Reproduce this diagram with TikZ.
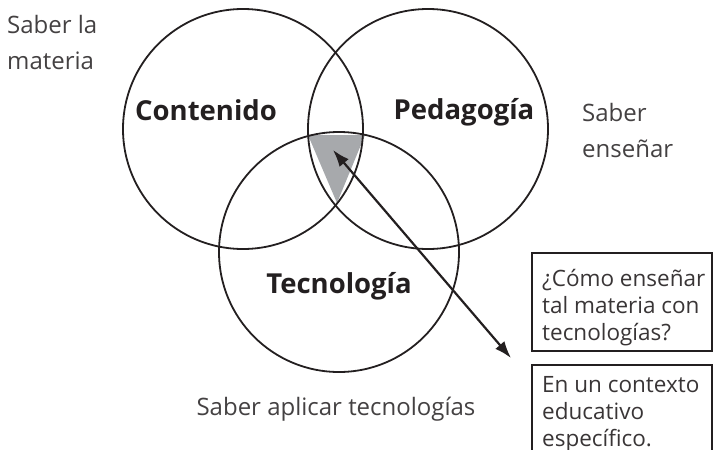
\documentclass[tikz,border=0pt]{standalone}
\usepackage{fontspec}
\setmainfont{Open Sans}
\usetikzlibrary{arrows.meta}
\definecolor{ink}{HTML}{231F20}
\definecolor{lensgray}{HTML}{A7A9AC}
\begin{document}
\begin{tikzpicture}[x=1pt,y=-1pt,
        venn/.style={draw=ink,line width=1.8pt,circle,minimum size=240pt,inner sep=0pt},
        area/.style={font=\fontsize{27.5}{30}\selectfont\bfseries,text=ink,inner sep=0pt,anchor=base},
        hint/.style={font=\fontsize{24}{36}\selectfont,text=ink!85,align=left,inner sep=0pt,anchor=base west},
        infobox/.style={draw=ink,line width=2.4pt,outer sep=0pt,anchor=north west,minimum width=180pt},
        infotext/.style={font=\fontsize{22.5}{27}\selectfont,text=ink!90,align=left,inner sep=0pt,anchor=base west}]
    \useasboundingbox (0,0) rectangle (713,450);
    \clip (0,0) rectangle (713,450);

    \fill [lensgray] (308,135) -- (365,135) -- (337,203) -- cycle;

    \node [venn] (cont) at (243,129) {};
    \node [venn] (ped) at (428,129) {};
    \node [venn] (tec) at (339,252) {};

    \node [area] (contlabel) at (206,120) {Contenido};
    \node [area] (pedlabel) at (464,119) {Pedagogía};
    \node [area] (teclabel) at (339,293) {Tecnología};

    \node [hint] (materia) at (7,69) {Saber la\\materia};
    \node [hint] (ensenar) at (582,157) {Saber\\enseñar};
    \node [hint,anchor=base] (aplicar) at (336,415) {Saber aplicar tecnologías};

    \node [infobox,minimum height=98pt] (qbox) at (532,253) {};
    \node [infobox,minimum height=97pt] (cbox) at (532,365) {};
    \node [infotext] (qtext) at (542,340) {¿Cómo enseñar\\tal materia con\\tecnologías?};
    \node [infotext] (ctext) at (542,446) {En un contexto\\educativo\\específico.};

    \coordinate (core) at (333,150);
    \coordinate (end) at (511,358);
    \draw [ink,line width=2.2pt,{Latex[length=17pt,width=12pt]}-{Latex[length=17pt,width=12pt]}] (core) -- (end);
\end{tikzpicture}
\end{document}
